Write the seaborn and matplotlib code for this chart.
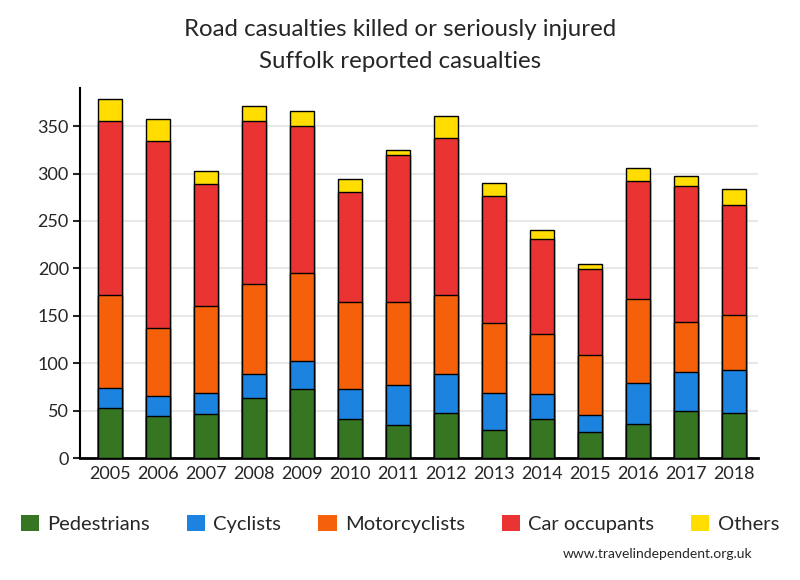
import pandas as pd
import matplotlib.pyplot as plt
import seaborn as sns
from matplotlib.patches import Patch

# Suffolk KSI casualties by road user type
years = ["2005", "2006", "2007", "2008", "2009", "2010", "2011",
         "2012", "2013", "2014", "2015", "2016", "2017", "2018"]
pedestrians = [53, 44, 46, 63, 73, 41, 35, 47, 30, 41, 27, 36, 50, 47]
cyclists = [21, 21, 23, 26, 29, 32, 42, 42, 39, 27, 18, 43, 41, 46]
motorcyclists = [98, 72, 91, 94, 93, 91, 87, 83, 73, 63, 64, 89, 52, 58]
car_occupants = [183, 197, 129, 172, 155, 117, 156, 165, 134, 100, 90, 124, 144, 116]
others = [24, 24, 14, 16, 16, 13, 5, 24, 14, 9, 6, 14, 10, 17]

labels = ["Pedestrians", "Cyclists", "Motorcyclists", "Car occupants", "Others"]
colors = ["#367521", "#1c84e0", "#f5600b", "#e93433", "#ffdd00"]

sns.set_style("white")
plt.rcParams['font.family'] = ['Lato', 'DejaVu Sans']

df = pd.DataFrame({"year": years, "Pedestrians": pedestrians, "Cyclists": cyclists,
                   "Motorcyclists": motorcyclists, "Car occupants": car_occupants,
                   "Others": others})
cum = df[labels].cumsum(axis=1)
cum["year"] = df["year"]

fig = plt.figure(figsize=(8, 5.8), dpi=100)
ax = fig.add_axes([0.1, 0.2103, 0.8475, 0.6377])

# draw cumulative totals from the top layer down so each stacks visually
for lab, col in reversed(list(zip(labels, colors))):
    sns.barplot(data=cum, x="year", y=lab, color=col, width=0.5,
                edgecolor="black", linewidth=1, saturation=1, ax=ax, zorder=3)

ax.set_ylim(0, 390)
ax.set_xlim(-0.615, 13.51)
ax.set_yticks(range(0, 351, 50))
ax.yaxis.grid(True, color="#e8e8e8", linewidth=1.5, zorder=0)
ax.set_axisbelow(True)
ax.set_xlabel("")
ax.set_ylabel("")
for s in ["top", "right"]:
    ax.spines[s].set_visible(False)
ax.spines["left"].set_linewidth(1.5)
ax.spines["bottom"].set_linewidth(2)
ax.spines["left"].set_color("black")
ax.spines["bottom"].set_color("black")
ax.tick_params(axis="y", length=5, width=1.5, left=True, labelsize=13, pad=3)
ax.tick_params(axis="x", length=0, labelsize=13, pad=6)

fig.text(0.5, 0.949, "Road casualties killed or seriously injured",
         ha="center", va="center", fontsize=17.3)
fig.text(0.5, 0.894, "Suffolk reported casualties",
         ha="center", va="center", fontsize=17.3)

handles = [Patch(facecolor=c, edgecolor="none") for c in colors]
fig.legend(handles, labels, loc="center", bbox_to_anchor=(0.5, 0.097), ncol=5,
           frameon=False, fontsize=14.5, handlelength=0.9, handleheight=0.9,
           handletextpad=0.4, columnspacing=1.85)

fig.text(0.94, 0.045, "www.travelindependent.org.uk", ha="right", va="center",
         fontsize=10)

fig.savefig("out.png", dpi=100)
